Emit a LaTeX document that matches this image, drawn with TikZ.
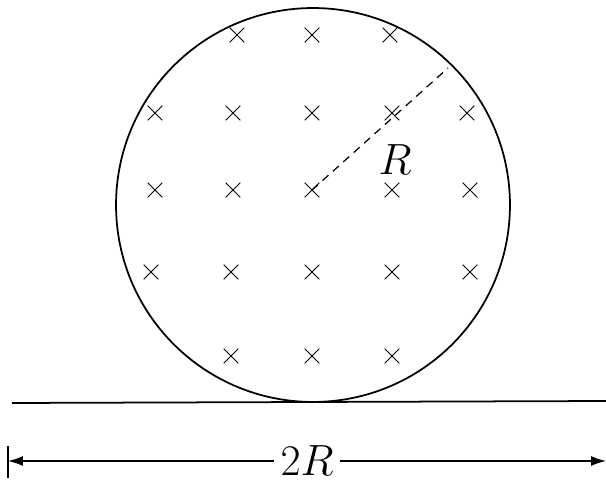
\documentclass[tikz,border=0pt]{standalone}
\usetikzlibrary{positioning, arrows.meta, shapes.misc}

\begin{document}
\begin{tikzpicture}[x=0.02cm, y=-0.02cm, line width=1pt,
    field/.style={cross out, draw, line width=0.6pt, minimum size=0.27cm, inner sep=0pt},
    lbl/.style={font=\fontsize{23}{28}\selectfont},
    dim/.style={-{Latex[length=0.3cm, width=0.2cm]}, line width=0.8pt}]
    \useasboundingbox (0,0) rectangle (606,483);

    % Region with the field
    \coordinate (O) at (313,205);
    \draw (O) circle [radius=3.94cm];

    % Field into the page
    \foreach \x/\y/\n in {237/35/a1, 312/35/a2, 390/35/a3,
                          155/113/b1, 233/113/b2, 312/113/b3, 392/113/b4, 467/113/b5,
                          155/190/c1, 233/190/c2, 312/190/c3, 392/190/c4, 470/190/c5,
                          151/272/d1, 231/272/d2, 312/272/d3, 392/272/d4, 470/272/d5,
                          231/356/e1, 312/356/e2, 392/356/e3}
        \node[field] (\n) at (\x,\y) {};

    % Radius
    \coordinate (rim) at (448,68);
    \draw[dash pattern=on 0.16cm off 0.12cm, line width=0.7pt] (c3.center) -- (rim);
    \node[lbl] (rad) at (395,160) {$R$};

    % Ground
    \coordinate (gl) at (12,403);
    \coordinate (gr) at (606,401);
    \draw (gl) -- (gr);

    % Width
    \node[lbl] (len) at (307,461) {$2R$};
    \coordinate (bl) at (8,461);
    \coordinate (br) at (606,461);
    \coordinate (bt) at (8,446);
    \coordinate (bb) at (8,478);
    \draw (bt) -- (bb);
    \draw[dim] (len.west) -- (bl);
    \draw[dim] (len.east) -- (br);
\end{tikzpicture}
\end{document}
